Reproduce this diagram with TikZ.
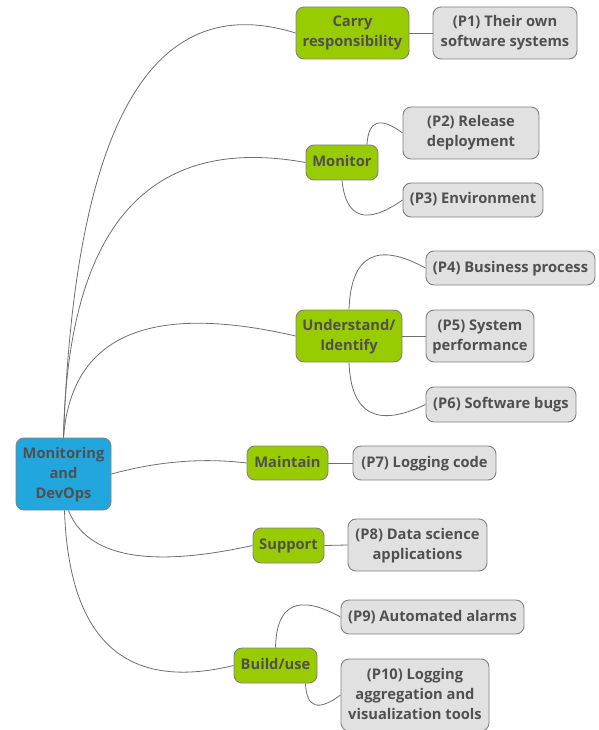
\documentclass[tikz,border=0pt]{standalone}
\usepackage{fontspec}
\setmainfont{Open Sans}
\usetikzlibrary{calc,backgrounds}
\definecolor{txt}{RGB}{80,80,80}
\definecolor{rootblue}{RGB}{34,166,222}
\definecolor{lvlgreen}{RGB}{153,204,0}
\definecolor{leafgray}{RGB}{225,225,225}
\definecolor{edgegray}{RGB}{128,128,128}
\definecolor{linegray}{RGB}{110,110,110}
\newcommand{\lbl}[1]{\raisebox{-2.5pt}{\begin{tabular}{@{}c@{}}#1\end{tabular}}}
\tikzset{
  box/.style={draw=edgegray, line width=0.9pt, rounded corners=8pt,
    text=txt, font=\fontsize{14.7}{20}\selectfont\bfseries, inner sep=0pt},
  rootbox/.style={box, fill=rootblue},
  topicbox/.style={box, fill=lvlgreen},
  leafbox/.style={box, fill=leafgray},
  conn/.style={draw=linegray, line width=0.8pt},
  quad/.style={to path={.. controls ($(\tikztostart)!2/3!#1$) and ($(\tikztotarget)!2/3!#1$) .. (\tikztotarget)}}
}
\begin{document}
\begin{tikzpicture}[x=1pt,y=-1pt]
\useasboundingbox (0,0) rectangle (598,730);
% root
\node[rootbox, minimum width=95pt, minimum height=72pt] (root) at (63.5,474) {\lbl{Monitoring\\and\\DevOps}};
% level 1
\node[topicbox, minimum width=113pt, minimum height=52pt] (carry) at (352.5,33) {\lbl{Carry\\responsibility}};
\node[topicbox, minimum width=72pt, minimum height=35pt] (monitor) at (342,162.5) {\lbl{Monitor}};
\node[topicbox, minimum width=106pt, minimum height=52pt] (under) at (349,336) {\lbl{Understand/\\Identify}};
\node[topicbox, minimum width=81pt, minimum height=34pt] (maintain) at (287.5,463) {\lbl{Maintain}};
\node[topicbox, minimum width=71pt, minimum height=35pt] (support) at (288.5,545.5) {\lbl{Support}};
\node[topicbox, minimum width=83pt, minimum height=35pt] (build) at (275.5,665.5) {\lbl{Build/use}};
% leaves
\node[leafbox, minimum width=144pt, minimum height=52pt] (p1) at (505,33) {\lbl{(P1) Their own\\software systems}};
\node[leafbox, minimum width=136pt, minimum height=52pt] (p2) at (471,133) {\lbl{(P2) Release\\deployment}};
\node[leafbox, minimum width=140pt, minimum height=34pt] (p3) at (473,200) {\lbl{(P3) Environment}};
\node[leafbox, minimum width=169pt, minimum height=34pt] (p4) at (510.5,268) {\lbl{(P4) Business process}};
\node[leafbox, minimum width=108pt, minimum height=52pt] (p5) at (480,336) {\lbl{(P5) System\\performance}};
\node[leafbox, minimum width=150pt, minimum height=35pt] (p6) at (501,404.5) {\lbl{(P6) Software bugs}};
\node[leafbox, minimum width=143pt, minimum height=34pt] (p7) at (424.5,463) {\lbl{(P7) Logging code}};
\node[leafbox, minimum width=139pt, minimum height=52pt] (p8) at (417.5,545) {\lbl{(P8) Data science\\applications}};
\node[leafbox, minimum width=183pt, minimum height=34pt] (p9) at (432.5,617) {\lbl{(P9) Automated alarms}};
\node[leafbox, minimum width=148pt, minimum height=72pt] (p10) at (415,695) {\lbl{(P10) Logging\\aggregation and\\visualization tools}};
\begin{pgfonlayer}{background}
% root connectors
\draw[conn] (root.north) to[quad={(80,-34)}] (carry.west);
\draw[conn] (root.north) to[quad={(70,120)}] (monitor.west);
\draw[conn] (root.north) to[quad={(75,285)}] (under.west);
\draw[conn] (root.east) to[quad={(181,455)}] (maintain.west);
\draw[conn] ([xshift=5pt]root.south) to[quad={(96,580)}] (support.west);
\draw[conn] ([xshift=1pt]root.south) to[quad={(71,705)}] (build.west);
% sub connectors
\draw[conn] (carry.east) -- (p1.west);
\draw[conn] ([xshift=25pt]monitor.north) to[quad={(369,108)}] (p2.west);
\draw[conn] (monitor.south) to[quad={(348,238)}] (p3.west);
\draw[conn] (under.north) to[quad={(352,228)}] (p4.west);
\draw[conn] (under.east) -- (p5.west);
\draw[conn] (under.south) to[quad={(352,440)}] (p6.west);
\draw[conn] (maintain.east) -- (p7.west);
\draw[conn] (support.east) -- (p8.west);
\draw[conn] (build.north) to[quad={(277,582)}] (p9.west);
\draw[conn] ([xshift=30pt]build.south) to[quad={(307,720)}] (p10.west);
\end{pgfonlayer}
\end{tikzpicture}
\end{document}
